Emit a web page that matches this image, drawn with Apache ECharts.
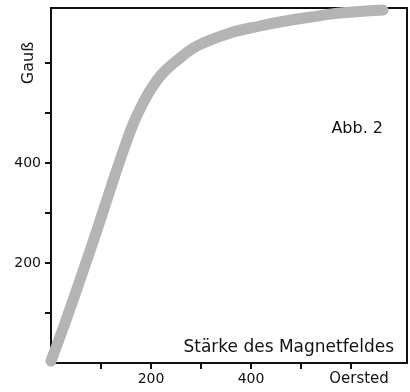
<!DOCTYPE html>
<html>
<head>
<meta charset="utf-8">
<script src="https://cdn.jsdelivr.net/npm/echarts@6/dist/echarts.min.js"></script>
<style>
  html, body { margin: 0; padding: 0; background: #fff; }
  #chart { width: 410px; height: 392px; }
</style>
</head>
<body>
<div id="chart"></div>
<script>
// field strength (Oersted) and induction (Gauss)
const fieldOersted = [0, 28, 58, 92, 124, 150, 166, 182, 200, 222, 248, 292, 358, 418, 458, 520, 578, 664];
const inductionGauss = [4, 80, 166, 266, 364, 440, 482, 516, 548, 578, 602, 634, 660, 674, 682, 692, 700, 706];

const xTickValues = [100, 200, 300, 400, 500, 600];
const xLabelValues = [200, 400, 600];
const yTickValues = [100, 200, 300, 400, 500, 600];
const yLabelValues = [200, 400];

const font = 'DejaVu Sans';

const chart = echarts.init(document.getElementById('chart'));

chart.setOption({
    animation: false,
    grid: {
        left: 51,
        right: 3,
        top: 8,
        bottom: 29,
        show: true,
        borderColor: '#111',
        borderWidth: 2,
    },
    xAxis: {
        type: 'value',
        min: 0,
        max: 712,
        splitLine: { show: false },
        axisLine: { lineStyle: { color: '#111', width: 2 } },
        axisTick: { length: 6, lineStyle: { color: '#111', width: 2 }, customValues: xTickValues },
        axisLabel: {
            customValues: xLabelValues,
            margin: 9,
            color: '#111',
            fontFamily: font,
            fontSize: 14,
            formatter: v => (v === 600 ? '{o|Oersted}' : String(v)),
            rich: { o: { fontFamily: font, fontSize: 15, color: '#111', padding: [0, 0, 0, 16] } },
        },
    },
    yAxis: [
        {
            type: 'value',
            min: 0,
            max: 710,
            splitLine: { show: false },
            axisLine: { show: true, lineStyle: { color: '#111', width: 2 } },
            axisTick: { show: true, length: 6, lineStyle: { color: '#111', width: 2 }, customValues: yTickValues },
            axisLabel: {
                customValues: yLabelValues,
                margin: 10,
                color: '#111',
                fontFamily: font,
                fontSize: 14,
            },
        },
        {
            // only carries the rotated unit label at 600
            type: 'value',
            position: 'left',
            min: 0,
            max: 710,
            splitLine: { show: false },
            axisLine: { show: false },
            axisTick: { show: false },
            axisLabel: {
                customValues: [600],
                rotate: 90,
                margin: 14,
                color: '#111',
                fontFamily: font,
                fontSize: 16,
                formatter: () => 'Gauß',
            },
        },
    ],
    series: [
        {
            type: 'line',
            data: fieldOersted.map((x, i) => [x, inductionGauss[i]]),
            smooth: 0.4,
            showSymbol: false,
            lineStyle: { color: '#b4b4b4', width: 11, cap: 'round', join: 'round' },
        },
    ],
    graphic: [
        {
            type: 'text',
            right: 27,
            top: 121,
            style: { text: 'Abb. 2', font: '16px "DejaVu Sans"', fill: '#111' },
        },
        {
            type: 'text',
            right: 16,
            top: 339,
            style: { text: 'Stärke des Magnetfeldes', font: '17px "DejaVu Sans"', fill: '#111' },
        },
    ],
});
</script>
</body>
</html>
